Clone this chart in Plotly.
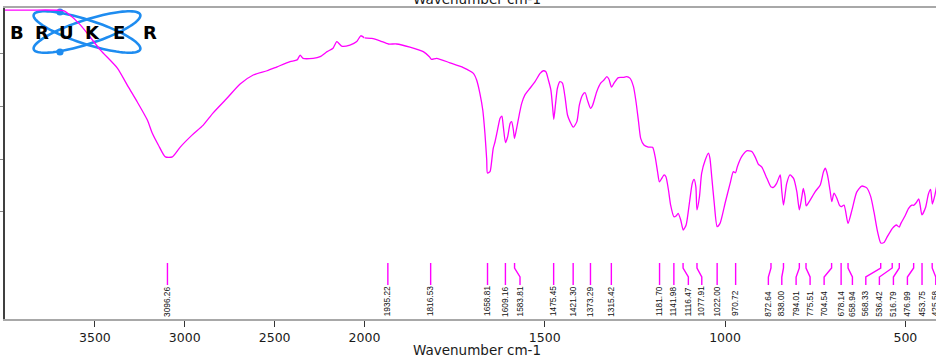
import numpy as np
import plotly.graph_objects as go

# ---------------- spectrum (wavenumber in cm-1, transmittance in %) ----------------
wavenumber = [
    4000, 3858, 3675, 3653, 3581, 3469, 3375, 3314, 3264, 3208, 3181, 3147, 3108, 3069,
    3025, 2958, 2897, 2842, 2764, 2692, 2619, 2542, 2486, 2414, 2375, 2358, 2342, 2286,
    2247, 2208, 2175, 2154, 2127, 2081, 2043, 2021, 2000,
    1980, 1957, 1934, 1911, 1874, 1837, 1820, 1814, 1800, 1763, 1726, 1698, 1689, 1680,
    1672, 1666, 1661, 1659, 1652, 1647, 1643, 1638, 1632, 1624, 1619, 1615, 1609, 1603,
    1596, 1592, 1587, 1584, 1578, 1571, 1564, 1555, 1541, 1527, 1513, 1504, 1497, 1490,
    1483, 1478, 1475, 1470, 1465, 1458, 1451, 1444, 1437, 1430, 1421, 1411, 1404, 1395,
    1388, 1382, 1373, 1367, 1356, 1345, 1336, 1328, 1322, 1315, 1308, 1296, 1282, 1273,
    1264, 1254, 1247, 1240, 1234, 1225, 1213, 1201, 1194, 1187, 1182, 1169, 1164, 1157,
    1151, 1142, 1136, 1130, 1123, 1116, 1108, 1099, 1091, 1086, 1081, 1078, 1071, 1065,
    1055, 1046, 1042, 1037, 1030, 1022, 1014, 1000, 986, 977, 971, 966, 954, 940, 926,
    917, 908, 898, 884, 873, 866, 857, 847, 843, 838, 829, 820, 810, 801, 794, 787, 783,
    778, 775, 764, 750, 736, 727, 722, 716, 709, 704, 698, 690, 683, 678, 670, 659, 648,
    635, 621, 607, 596, 587, 577, 568, 559, 550, 540, 536, 525, 517, 512, 501, 491, 482,
    477, 470, 463, 459, 454, 444, 436, 430, 425, 418, 413,
]
transmittance = [
    96.2, 96.2, 96.0, 95.1, 90.6, 81.1, 74.3, 67.2, 61.5, 54.7, 49.8, 45.3, 40.8, 40.8,
    44.5, 49.1, 52.8, 57.4, 63.0, 68.3, 71.7, 73.3, 74.8, 76.7, 77.4, 79.2, 78.0, 78.0,
    78.6, 80.5, 81.8, 84.3, 82.6, 83.0, 84.3, 86.5, 85.7,
    85.5, 84.6, 83.4, 83.4, 82.2, 80.5, 78.6, 77.6, 78.0, 76.3, 74.5, 72.3, 69.8, 64.8,
    58.5, 49.7, 39.6, 34.7, 35.2, 39.6, 44.0, 46.5, 50.3, 55.4, 56.2, 52.2, 46.2, 48.4,
    53.5, 54.1, 50.9, 47.8, 51.6, 56.6, 61.0, 64.2, 66.7, 69.2, 72.3, 73.3, 72.9, 69.8,
    66.0, 59.1, 55.0, 61.0, 66.7, 69.2, 68.6, 63.5, 56.6, 54.1, 52.0, 54.1, 60.4, 64.2,
    65.0, 62.3, 59.1, 60.4, 65.4, 68.6, 69.8, 71.1, 70.1, 67.1, 68.6, 70.7, 70.8, 71.1,
    70.5, 67.3, 61.6, 54.1, 47.8, 45.3, 44.5, 44.4, 40.9, 35.0, 31.4, 34.0, 33.3, 28.3,
    22.6, 18.2, 18.5, 19.5, 17.0, 13.2, 15.1, 23.3, 30.8, 32.3, 29.5, 20.8, 25.8, 34.6,
    39.6, 42.2, 40.3, 33.3, 23.3, 14.5, 15.7, 23.3, 30.8, 35.2, 34.8, 37.1, 40.9, 43.1, 42.8,
    40.9, 38.1, 36.9, 32.7, 29.5, 29.3, 30.8, 34.0, 28.3, 22.6, 30.8, 34.0, 32.7, 27.7, 20.8, 25.8, 28.9,
    25.8, 22.3, 24.5, 27.7, 30.2, 35.2, 36.5, 34.0, 28.3, 23.9, 27.1, 25.2, 22.6, 22.0, 22.6, 15.7, 20.8,
    27.5, 29.8, 29.1, 25.8, 20.0, 12.5, 8.3, 8.5, 10.7, 13.0, 13.8, 15.1, 14.3, 15.8, 18.5, 21.4, 22.6,
    22.5, 23.5, 24.9, 22.6, 18.9, 21.7, 26.8, 28.5, 23.0, 26.4, 29.8,
]

# ---------------- picked peaks ----------------
peak_wavenumbers = [
    3096.26, 1935.22, 1816.53, 1658.81, 1609.16, 1583.81, 1475.45, 1421.30, 1373.29,
    1315.42, 1181.70, 1141.98, 1116.47, 1077.91, 1022.00, 970.72, 872.64, 838.00,
    794.01, 775.51, 704.54, 678.14, 658.94, 568.33, 536.42, 516.79, 476.99, 453.75, 425.58,
]
# where each label sits along the axis (labels are spread out so they do not overlap)
label_positions = [
    3096.26, 1935.22, 1816.53, 1658.81, 1609.16, 1568.7, 1475.45, 1421.30, 1373.29,
    1315.42, 1181.70, 1141.98, 1101.8, 1064.6, 1022.00, 970.72, 879.9, 842.7,
    803.0, 764.2, 725.3, 678.14, 646.8, 609.7, 572.0, 533.1, 494.3, 453.75, 415.6,
]

x_ticks_high = [3500, 3000, 2500]
x_ticks_low = [2000, 1500, 1000, 500]
y_ticks = [20, 40, 60, 80]

MAGENTA = "#ff00ff"
W, H = 936, 357
ML, MR, MT, MB = 5, 0, 8, 38
PW, PH = W - ML - MR, H - MT - MB
SPLIT = (364.5 - ML) / PW          # the region above 2000 cm-1 is drawn at half scale
Y_RANGE = [-20.38, 96.98]

wn = np.array(wavenumber, dtype=float)
tr = np.array(transmittance, dtype=float)
hi = wn >= 2000
lo = wn <= 2000

fig = go.Figure()
line_style = dict(color=MAGENTA, width=1.3, shape="spline", smoothing=0.6)
fig.add_trace(go.Scatter(x=wn[hi], y=tr[hi], mode="lines", line=line_style,
                         xaxis="x", yaxis="y", hoverinfo="x+y", showlegend=False))
fig.add_trace(go.Scatter(x=wn[lo], y=tr[lo], mode="lines", line=line_style,
                         xaxis="x2", yaxis="y", hoverinfo="x+y", showlegend=False))

# peak sticks: vertical lines, bent where the label was moved sideways
Y_TOP, Y_K1, Y_K2, Y_BOT = 0.75, -1.13, -4.53, -7.55
LABEL_Y = -19.8
annotations = []
for pk, lab in zip(peak_wavenumbers, label_positions):
    axis = "x" if pk > 2000 else "x2"
    if abs(pk - lab) < 0.5:
        xs, ys = [pk, pk], [Y_TOP, Y_BOT]
    else:
        xs, ys = [pk, pk, lab, lab], [Y_TOP, Y_K1, Y_K2, Y_BOT]
    fig.add_trace(go.Scatter(x=xs, y=ys, mode="lines", line=dict(color=MAGENTA, width=1.4),
                             xaxis=axis, yaxis="y", hoverinfo="skip", showlegend=False))
    annotations.append(dict(
        x=lab, y=LABEL_Y, xref=axis, yref="y", text=f"{pk:.2f}", showarrow=False,
        textangle=-90, xanchor="center", yanchor="bottom", borderpad=0,
        font=dict(family="Liberation Sans Narrow, Arial Narrow, Liberation Sans", size=8.3, color="#111111"),
    ))

# axis titles, bottom and top
title_font = dict(family="DejaVu Sans, Verdana, sans-serif", size=13.5, color="#1a1a1a")
x_center = (477 - ML) / PW
annotations.append(dict(x=x_center, y=(H - MB - 350) / PH, xref="paper", yref="paper",
                        text="Wavenumber cm-1", showarrow=False, font=title_font,
                        xanchor="center", yanchor="middle"))
annotations.append(dict(x=x_center, y=(H - MB + 1) / PH, xref="paper", yref="paper",
                        text="Wavenumber cm-1", showarrow=False, font=title_font,
                        xanchor="center", yanchor="middle"))

# ---------------- logo: two crossing orbits, two dots and the word ----------------
def px_to_paper(px, py):
    return (px - ML) / PW, (H - MB - py) / PH

shapes = []
cx, cy, a, b = 87.0, 32.0, 56.0, 12.0
t = np.linspace(0, 2 * np.pi, 90)
for ang in (np.deg2rad(18), -np.deg2rad(18)):
    ex = cx + a * np.cos(t) * np.cos(ang) - b * np.sin(t) * np.sin(ang)
    ey = cy + a * np.cos(t) * np.sin(ang) + b * np.sin(t) * np.cos(ang)
    pts = [px_to_paper(x, y) for x, y in zip(ex, ey)]
    path = "M " + " L ".join(f"{x:.5f},{y:.5f}" for x, y in pts) + " Z"
    shapes.append(dict(type="path", path=path, xref="paper", yref="paper",
                       line=dict(color="#1e8cf0", width=2.6), layer="below"))
for dx, dy in ((60, 12), (60, 52)):
    x0, y0 = px_to_paper(dx - 3.6, dy - 3.6)
    x1, y1 = px_to_paper(dx + 3.6, dy + 3.6)
    shapes.append(dict(type="circle", xref="paper", yref="paper", x0=x0, x1=x1, y0=y1, y1=y0,
                       fillcolor="#1e8cf0", line=dict(width=0), layer="below"))

for letter, lx in zip("BRUKER", (16.5, 41.5, 66.5, 92.5, 119.0, 149.5)):
    px, py = px_to_paper(lx, 32)
    annotations.append(dict(x=px, y=py, xref="paper", yref="paper", text=f"<b>{letter}</b>",
                            showarrow=False, xanchor="center", yanchor="middle",
                            font=dict(family="DejaVu Sans, Verdana, sans-serif", size=18, color="#000000")))

axis_common = dict(showgrid=False, zeroline=False, automargin=False, ticks="outside", ticklen=6,
                   tickwidth=1.4, tickcolor="#333333", showline=True, linecolor="#a8a8a8",
                   linewidth=2, mirror=True,
                   tickfont=dict(family="DejaVu Sans, Verdana, sans-serif", size=12.5, color="#1a1a1a"))

fig.update_layout(
    width=W, height=H,
    margin=dict(l=ML, r=MR, t=MT, b=MB, autoexpand=False),
    paper_bgcolor="white", plot_bgcolor="rgba(0,0,0,0)",
    showlegend=False,
    xaxis=dict(domain=[0, SPLIT], range=[4000, 2000], tickvals=x_ticks_high, anchor="y",
               **axis_common),
    xaxis2=dict(domain=[SPLIT, 1], range=[2000, 415], tickvals=x_ticks_low, anchor="y",
                **axis_common),
    yaxis=dict(range=Y_RANGE, tickvals=y_ticks, showticklabels=False, ticks="outside",
               ticklen=5, tickwidth=1.2, tickcolor="#888888", showgrid=False, zeroline=False,
               automargin=False, showline=True, linecolor="#404040", linewidth=2, anchor="x"),
    shapes=shapes,
    annotations=annotations,
)

fig.write_html("out.html")
